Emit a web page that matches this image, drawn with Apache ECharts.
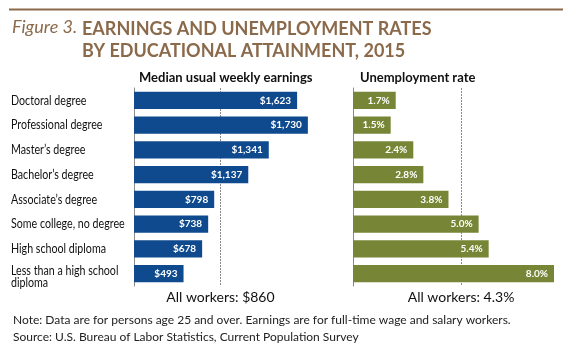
<!DOCTYPE html>
<html>
<head>
<meta charset="utf-8">
<script src="https://cdn.jsdelivr.net/npm/echarts@6/dist/echarts.min.js"></script>
<style>
html,body{margin:0;padding:0;background:#fff;}
#chart{width:580px;height:350px;}
</style>
</head>
<body>
<div id="chart"></div>
<script>
const categories = ['Doctoral degree','Professional degree',"Master\u2019s degree","Bachelor\u2019s degree","Associate\u2019s degree",'Some college, no degree','High school diploma','Less than a high school\ndiploma'];
const earnings = [1623,1730,1341,1137,798,738,678,493];
const unemployment = [1.7,1.5,2.4,2.8,3.8,5.0,5.4,8.0];
const allWorkersEarnings = 860;
const allWorkersUnemp = 4.3;

const FONT = 'Lato';
const chart = echarts.init(document.getElementById('chart'));
const axisLineStyle = {color:'#8a8a8a', width:1};
const refLine = (xAxisIndex, yAxisIndex, value, text) => ({
  type:'line', xAxisIndex, yAxisIndex, data:[], z:1,
  markLine:{silent:true, symbol:'none', z:1, data:[{xAxis:value}],
    lineStyle:{color:'#8a8a8a', type:[2,1], width:1},
    label:{show:true, position:'end', distance:4, formatter:text, fontFamily:FONT, fontSize:14, color:'#111'}}
});
chart.setOption({
  animation:false,
  backgroundColor:'#fff',
  title:[
    {text:'Figure 3.', left:7, top:13, textStyle:{fontFamily:FONT, fontStyle:'italic', fontWeight:'normal', fontSize:18, color:'#8b6a4b'}},
    {text:'EARNINGS AND UNEMPLOYMENT RATES\nBY EDUCATIONAL ATTAINMENT, 2015', left:77, top:13, textStyle:{fontFamily:FONT, fontWeight:'bold', fontSize:18, lineHeight:22, color:'#8b6a4b'}},
    {text:'Median usual weekly earnings', left:134, top:66, textStyle:{fontFamily:FONT, fontWeight:'bold', fontSize:13, color:'#111'}},
    {text:'Unemployment rate', left:355, top:66, textStyle:{fontFamily:FONT, fontWeight:'bold', fontSize:13, color:'#111'}},
    {text:'Note: Data are for persons age 25 and over. Earnings are for full-time wage and salary workers.\nSource: U.S. Bureau of Labor Statistics, Current Population Survey', left:8, top:307, textStyle:{fontFamily:FONT, fontWeight:'normal', fontSize:12, lineHeight:16.5, color:'#222'}}
  ],
  grid:[
    {left:134, top:88, width:201, height:198},
    {left:353, top:88, width:201, height:198}
  ],
  xAxis:[
    {gridIndex:0, type:'value', min:0, max:2000, show:false},
    {gridIndex:1, type:'value', min:0, max:8, show:false}
  ],
  yAxis:[
    {gridIndex:0, type:'category', data:categories, inverse:true,
     axisLine:{show:true, lineStyle:axisLineStyle}, axisTick:{show:false}, axisLabel:{show:false}},
    {gridIndex:1, type:'category', data:categories, inverse:true,
     axisLine:{show:true, lineStyle:axisLineStyle}, axisTick:{show:false}, axisLabel:{show:false}}
  ],
  series:[
    refLine(0, 0, allWorkersEarnings, 'All workers: $' + allWorkersEarnings),
    refLine(1, 1, allWorkersUnemp, 'All workers: ' + allWorkersUnemp.toFixed(1) + '%'),
    {type:'bar', xAxisIndex:0, yAxisIndex:0, data:earnings, barCategoryGap:'31%', z:3,
     itemStyle:{color:'#0f4a8e'},
     label:{show:true, position:'insideRight', distance:6, color:'#fff', fontFamily:FONT, fontWeight:'bold', fontSize:10,
       formatter:p=>'$'+p.value.toLocaleString('en-US')}},
    {type:'bar', xAxisIndex:1, yAxisIndex:1, data:unemployment, barCategoryGap:'31%', z:3,
     itemStyle:{color:'#778636'},
     label:{show:true, position:'insideRight', distance:6, color:'#fff', fontFamily:FONT, fontWeight:'bold', fontSize:10,
       formatter:p=>p.value.toFixed(1)+'%'}}
  ]
});

// Category labels: placed at the category-axis positions, horizontally condensed
const labelGraphics = categories.map(c => {
  const y = chart.convertToPixel({yAxisIndex:0}, c);
  const twoLine = c.indexOf('\n') >= 0;
  return {type:'text', x:11, y: twoLine ? y + 3 : y, scaleX:0.82, originX:0, originY:0,
    style:{text:c, fontFamily:FONT, fontSize:13, lineHeight:12, fill:'#111', verticalAlign:'middle', align:'left'}};
});
chart.setOption({graphic:[
  {type:'line', shape:{x1:9,y1:9.5,x2:563,y2:9.5}, style:{stroke:'#8b6a4b', lineWidth:2}}
].concat(labelGraphics)});
</script>
</body>
</html>
